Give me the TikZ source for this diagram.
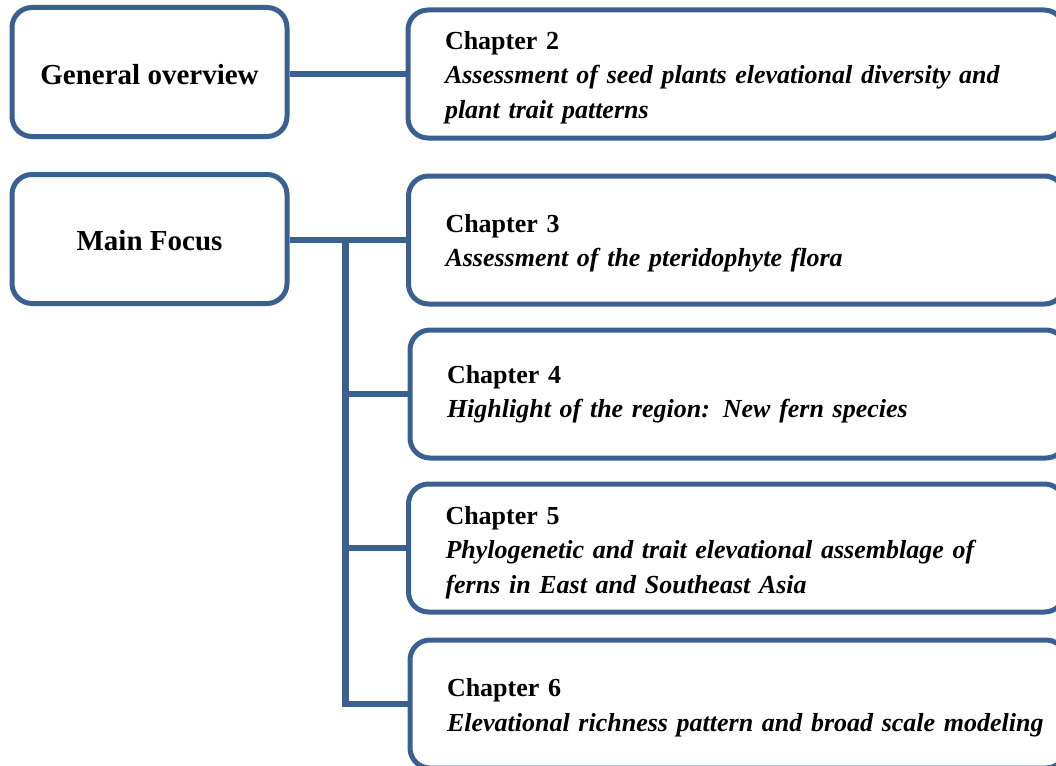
\documentclass[tikz,border=0pt]{standalone}
\usepackage{fontspec}
\setmainfont{Liberation Serif}
\definecolor{frameblue}{RGB}{58,95,145}
\begin{document}
\begin{tikzpicture}[x=1pt, y=1pt,
		box/.style={rectangle, draw=frameblue, line width=5pt, rounded corners=20pt},
		topic/.style={box, minimum width=275pt, minimum height=129pt, font=\fontsize{29}{34}\selectfont\bfseries},
		chapter/.style={box, anchor=west, text width=582pt, inner xsep=37pt, minimum height=128pt, align=left, font=\fontsize{26}{34.5}\selectfont\bfseries},
		link/.style={draw=frameblue, line width=6.5pt}
	]
		\useasboundingbox (0,0) rectangle (1056,-765);
		% left column
		\node[topic, text height=25.6pt] (overview) at (149.5,-72) {General overview};
		\node[topic, text height=23.6pt] (focus) at (149.5,-239) {Main Focus};
		
		% chapter boxes on the right
		\node[chapter, text height=24.7pt] (ch2) at (405.5,-74) {Chapter 2\\\textit{Assessment of seed plants elevational diversity and}\\\textit{plant trait patterns}};
		\node[chapter, text height=24.3pt] (ch3) at (406,-240) {Chapter 3\\\textit{Assessment of the pteridophyte flora}};
		\node[chapter] (ch4) at (407.5,-394) {Chapter 4\\\textit{Highlight of the region: New fern species}};
		\node[chapter, text height=26.7pt] (ch5) at (406,-548) {Chapter 5\\\textit{Phylogenetic and trait elevational assemblage of}\\\textit{ferns in East and Southeast Asia}};
		\node[chapter, text height=25.7pt] (ch6) at (407.5,-704) {Chapter 6\\\mbox{\textit{Elevational richness pattern and broad scale modeling}}};
		
		% connectors
		\draw[link] (overview.east |- ch2.west) -- (ch2.west);
		\draw[link] (focus.east |- ch3.west) -- (ch3.west);
		\coordinate (trunk) at (345.5,-240);
		\draw[link] (trunk) |- (ch6.west);
		\foreach \c in {ch4, ch5}
			\draw[link] (trunk |- \c.west) -- (\c.west);
	\end{tikzpicture}
\end{document}
